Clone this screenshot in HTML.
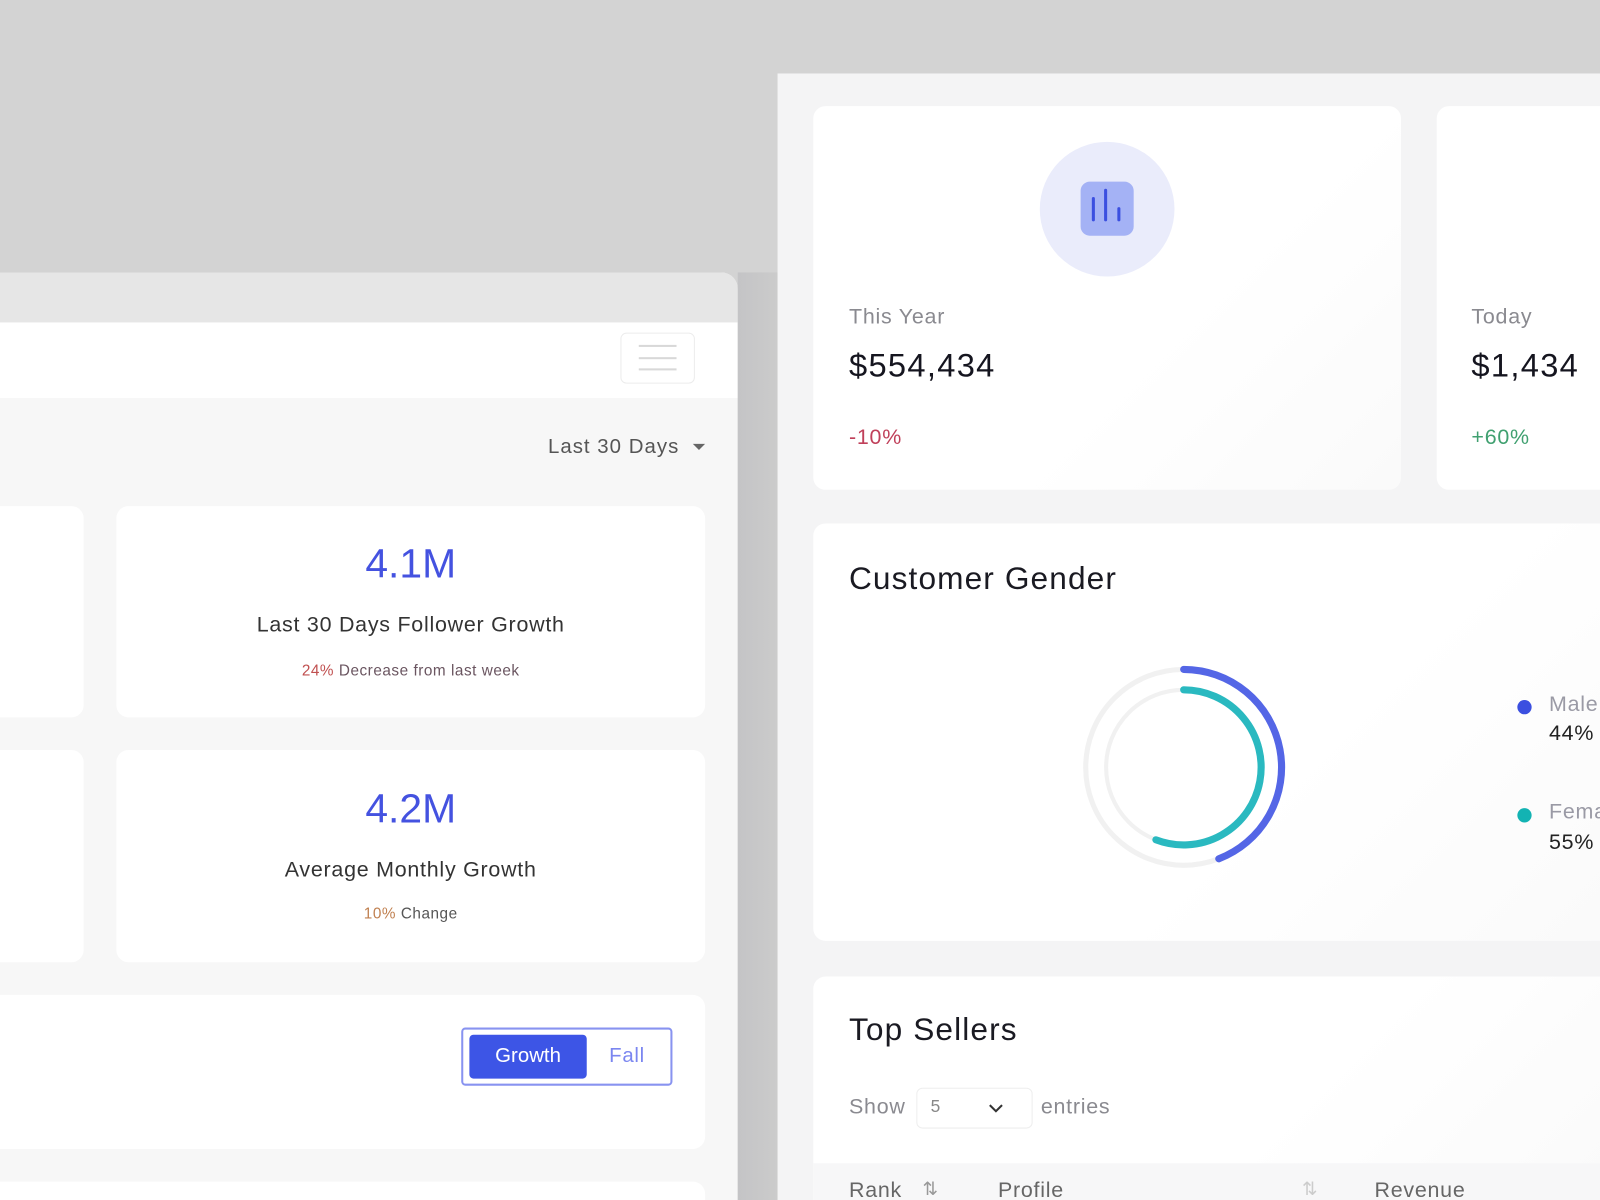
<!DOCTYPE html>
<html><head><meta charset="utf-8"><style>
*{margin:0;padding:0;box-sizing:border-box}
html,body{width:1600px;height:1200px;overflow:hidden;background:#d3d3d3;font-family:"Liberation Sans",sans-serif}
#w{position:absolute;left:0;top:0;width:1600px;height:1200px;overflow:hidden}
#s{position:absolute;left:0;top:0;width:1568px;height:1176px;overflow:hidden;transform:scale(1.020408);transform-origin:0 0}
.a{position:absolute}
.card{position:absolute;background:#fff;border-radius:12px}
.t{position:absolute;white-space:nowrap;line-height:1;letter-spacing:0.035em}
</style></head><body><div id="w"><div id="s">
<div class="a" style="left:0;top:267px;width:723px;height:909px;background:#f7f7f7;border-top-right-radius:16px;overflow:hidden">
  <div class="a" style="left:0;top:0;width:723px;height:49px;background:#e6e6e6"></div>
  <div class="a" style="left:0;top:49px;width:723px;height:74px;background:#fff"></div>
</div>
<div class="a" style="left:723px;top:267px;width:39px;height:909px;background:linear-gradient(90deg,#c4c4c6,#cbcbcb)"></div>
<div class="a" style="left:608px;top:326px;width:73px;height:50px;border:1px solid #ececec;border-radius:6px;background:#fff"></div>
<div class="a" style="left:626px;top:338px;width:37px;height:2px;background:#d8d8d8"></div>
<div class="a" style="left:626px;top:350px;width:37px;height:2px;background:#d8d8d8"></div>
<div class="a" style="left:626px;top:361px;width:37px;height:2px;background:#d8d8d8"></div>
<div class="t" style="left:537px;top:428px;font-size:20px;color:#555;letter-spacing:0.05em">Last 30 Days</div>
<div class="a" style="left:679px;top:435px;border-left:6px solid transparent;border-right:6px solid transparent;border-top:6px solid #666"></div>

<div class="card" style="left:0;top:496px;width:82px;height:207px;border-radius:0 12px 12px 0"></div>
<div class="card" style="left:114px;top:496px;width:577px;height:207px"></div>
<div class="t" style="left:114px;width:577px;text-align:center;top:533px;font-size:40px;color:#4452e0;letter-spacing:0">4.1M</div>
<div class="t" style="left:114px;width:577px;text-align:center;top:602px;font-size:21px;color:#333">Last 30 Days Follower Growth</div>
<div class="t" style="left:114px;width:577px;text-align:center;top:650px;font-size:15px;color:#6a5560"><span style="color:#c05050">24%</span> Decrease from last week</div>

<div class="card" style="left:0;top:735px;width:82px;height:208px;border-radius:0 12px 12px 0"></div>
<div class="card" style="left:114px;top:735px;width:577px;height:208px"></div>
<div class="t" style="left:114px;width:577px;text-align:center;top:773px;font-size:40px;color:#4452e0;letter-spacing:0">4.2M</div>
<div class="t" style="left:114px;width:577px;text-align:center;top:842px;font-size:21px;color:#333">Average Monthly Growth</div>
<div class="t" style="left:114px;width:577px;text-align:center;top:888px;font-size:15px;color:#555"><span style="color:#c08050">10%</span> Change</div>

<div class="card" style="left:0;top:975px;width:691px;height:151px;border-radius:0 12px 12px 0"></div>
<div class="a" style="left:452px;top:1007px;width:207px;height:57px;border:2px solid #8893f0;border-radius:4px;background:#fff"></div>
<div class="a" style="left:460px;top:1014px;width:115px;height:43px;background:#3d55e6;border-radius:4px"></div>
<div class="t" style="left:460px;width:115px;text-align:center;top:1025px;font-size:20px;color:#fff;letter-spacing:0">Growth</div>
<div class="t" style="left:597px;top:1025px;font-size:20px;color:#7b86f0">Fall</div>
<div class="card" style="left:0;top:1158px;width:691px;height:18px;border-radius:0 12px 0 0"></div>

<div class="a" style="left:762px;top:72px;width:806px;height:1104px;background:#f4f4f5"></div>
<div class="card" style="left:797px;top:104px;width:576px;height:376px;background:linear-gradient(135deg,#fff 60%,#fafafa)"></div>
<div class="a" style="left:1019px;top:139px;width:132px;height:132px;border-radius:50%;background:#eaecfb"></div>
<div class="a" style="left:1059px;top:178px;width:52px;height:53px;border-radius:9px;background:#a4b2f5"></div>
<div class="a" style="left:1070px;top:193px;width:3px;height:24px;background:#3b4fe0;border-radius:2px"></div>
<div class="a" style="left:1082px;top:185px;width:3px;height:32px;background:#3b4fe0;border-radius:2px"></div>
<div class="a" style="left:1095px;top:203px;width:3px;height:14px;background:#3b4fe0;border-radius:2px"></div>
<div class="t" style="left:832px;top:300px;font-size:21px;color:#8a8a90">This Year</div>
<div class="t" style="left:832px;top:342px;font-size:32px;color:#15151f;letter-spacing:0.04em">$554,434</div>
<div class="t" style="left:832px;top:418px;font-size:21px;color:#c0405a">-10%</div>

<div class="card" style="left:1408px;top:104px;width:160px;height:376px;border-radius:12px 0 0 12px"></div>
<div class="t" style="left:1442px;top:300px;font-size:21px;color:#8a8a90">Today</div>
<div class="t" style="left:1442px;top:342px;font-size:32px;color:#15151f;letter-spacing:0.04em">$1,434</div>
<div class="t" style="left:1442px;top:418px;font-size:21px;color:#40a070">+60%</div>

<div class="card" style="left:797px;top:513px;width:771px;height:409px;border-radius:12px 0 0 12px;background:linear-gradient(135deg,#fff 60%,#fafafa)"></div>
<div class="t" style="left:832px;top:551px;font-size:31px;color:#1a1a22">Customer Gender</div>
<svg class="a" style="left:1050px;top:640px" width="220" height="224" viewBox="1050 640 220 224">
  <circle cx="1160" cy="752" r="96" fill="none" stroke="#f1f1f1" stroke-width="5"/>
  <circle cx="1160" cy="752" r="76" fill="none" stroke="#f1f1f1" stroke-width="4"/>
  <path d="M1160 656 A96 96 0 0 1 1194.4 841.6" fill="none" stroke="#5466e6" stroke-width="7" stroke-linecap="round"/>
  <path d="M1160 676 A76 76 0 1 1 1132.8 823" fill="none" stroke="#2ab9c0" stroke-width="7" stroke-linecap="round"/>
</svg>
<div class="a" style="left:1487px;top:686px;width:14px;height:14px;border-radius:50%;background:#3b4fe0"></div>
<div class="t" style="left:1518px;top:680px;font-size:21px;color:#9a9aa5">Male</div>
<div class="t" style="left:1518px;top:708px;font-size:21px;color:#222">44%</div>
<div class="a" style="left:1487px;top:792px;width:14px;height:14px;border-radius:50%;background:#13b3b3"></div>
<div class="t" style="left:1518px;top:785px;font-size:21px;color:#9a9aa5">Female</div>
<div class="t" style="left:1518px;top:815px;font-size:21px;color:#222">55%</div>

<div class="card" style="left:797px;top:957px;width:771px;height:219px;border-radius:12px 0 0 0;background:linear-gradient(135deg,#fff 60%,#fafafa)"></div>
<div class="t" style="left:832px;top:993px;font-size:31px;color:#1a1a22">Top Sellers</div>
<div class="t" style="left:832px;top:1074px;font-size:21px;color:#8a8a90">Show</div>
<div class="a" style="left:898px;top:1066px;width:114px;height:40px;border:1px solid #eee;border-radius:6px;background:#fff"></div>
<div class="t" style="left:912px;top:1076px;font-size:17px;color:#888">5</div>
<svg class="a" style="left:968px;top:1080px" width="16" height="12"><path d="M2 3 L8 9 L14 3" fill="none" stroke="#333" stroke-width="2"/></svg>
<div class="t" style="left:1020px;top:1074px;font-size:21px;color:#8a8a90">entries</div>
<div class="a" style="left:797px;top:1140px;width:771px;height:36px;background:#f7f7f8"></div>
<div class="t" style="left:832px;top:1157px;font-size:21px;line-height:19px;height:19px;overflow:hidden;color:#666">Rank</div>
<div class="t" style="left:904px;top:1156px;font-size:18px;color:#999">⇅</div>
<div class="t" style="left:978px;top:1157px;font-size:21px;line-height:19px;height:19px;overflow:hidden;color:#666">Profile</div>
<div class="t" style="left:1276px;top:1156px;font-size:18px;color:#ccc">⇅</div>
<div class="t" style="left:1347px;top:1157px;font-size:21px;line-height:19px;height:19px;overflow:hidden;color:#666">Revenue</div>
</div></div></body></html>
